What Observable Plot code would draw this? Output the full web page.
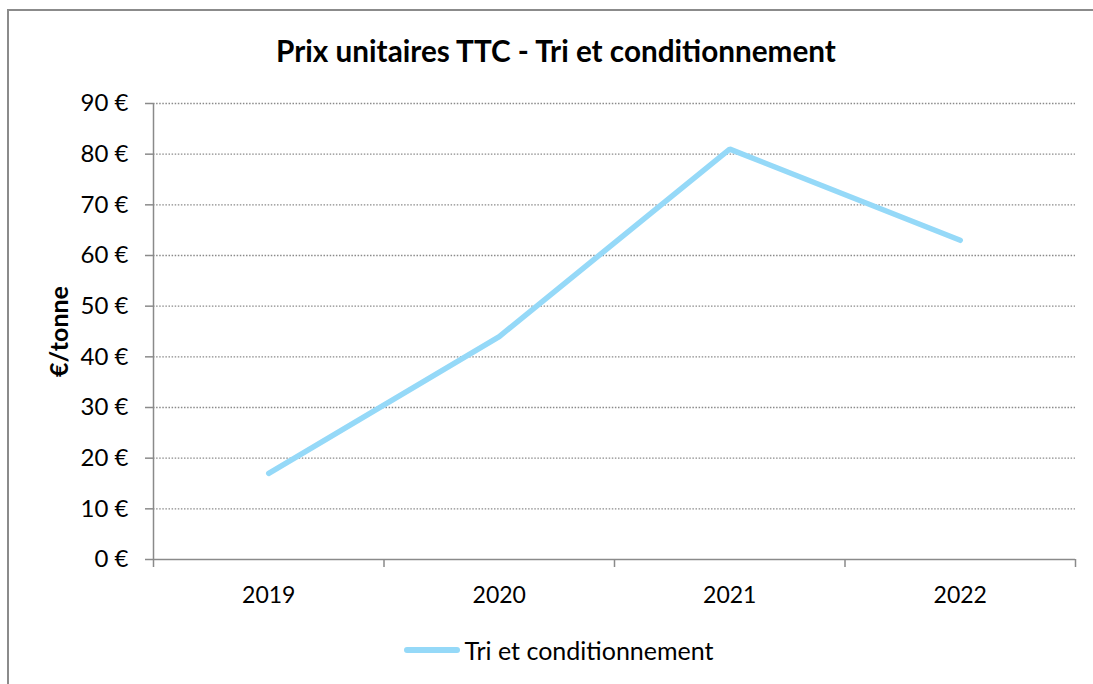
<!DOCTYPE html>
<html><head><meta charset="utf-8">
<script src="https://cdn.jsdelivr.net/npm/d3@7"></script>
<script src="https://cdn.jsdelivr.net/npm/@observablehq/plot@0.6"></script>
<style>
html,body{margin:0;padding:0;background:#fff;overflow:hidden;font-family:Lato,"Liberation Sans",sans-serif;}
#wrap{position:relative;width:1093px;height:684px;overflow:hidden;}
#bTop{position:absolute;left:7px;top:9px;width:1200px;height:2px;background:#8b8b8b;}
#bLeft{position:absolute;left:7px;top:9px;width:2px;height:700px;background:#8b8b8b;}
#title{position:absolute;left:0;top:31px;width:1112px;text-align:center;font-weight:bold;font-size:29.7px;line-height:40px;color:#000;}
#chart{position:absolute;left:0;top:80px;}
#legend{position:absolute;left:0;top:620px;width:1118px;height:60px;display:flex;align-items:center;justify-content:center;font-size:25px;color:#000;}
#legend .sw{display:inline-block;width:56px;height:6px;border-radius:3px;background:#95D9F8;margin-right:4px;}
</style></head>
<body>
<div id="wrap">
<div id="bTop"></div><div id="bLeft"></div>
<div id="title">Prix unitaires TTC - Tri et conditionnement</div>
<div id="chart"></div>
<div id="legend"><span class="sw"></span><span id="legtext"></span></div>
</div>
<script>
const years = [2019, 2020, 2021, 2022];
const values = [17, 44, 81, 63];
const yTicks = [0, 10, 20, 30, 40, 50, 60, 70, 80, 90];
const seriesName = "Tri et conditionnement";
const yLabel = "€/tonne";
const lineColor = "#95D9F8";

const data = years.map((y, i) => ({year: y, value: values[i]}));
const boundaries = years.map(y => y - 0.5).concat([years[years.length - 1] + 0.5]);

const chart = Plot.plot({
  width: 1093,
  height: 540,
  marginLeft: 153,
  marginRight: 18,
  marginTop: 23,
  marginBottom: 61,
  style: {fontFamily: "Lato, 'Liberation Sans', sans-serif", background: "transparent"},
  x: {type: "linear", domain: [boundaries[0], boundaries[boundaries.length - 1]], label: null},
  y: {domain: [0, 90], label: null},
  marks: [
    Plot.gridY(yTicks.filter(d => d > 0), {stroke: "#8a8a8a", strokeOpacity: 1, strokeWidth: 1.4, strokeDasharray: "1.5,1.6"}),
    Plot.axisY(yTicks, {tickSize: 8, tickPadding: 17, tickFormat: d => `${d} €`, fontSize: 24, stroke: "#8a8a8a", strokeWidth: 1.5, fill: "#000", label: null}),
    Plot.axisX(boundaries, {tickSize: 8, tickFormat: () => "", stroke: "#8a8a8a", strokeWidth: 1.5, label: null}),
    Plot.axisX(years, {tickSize: 0, tickPadding: 27, tickFormat: d => String(d), fontSize: 23, fill: "#000", label: null}),
    Plot.ruleX([boundaries[0]], {stroke: "#8a8a8a", strokeWidth: 1.5}),
    Plot.ruleY([0], {stroke: "#8a8a8a", strokeWidth: 1.5}),
    Plot.lineY(data, {x: "year", y: "value", stroke: lineColor, strokeWidth: 5.5, strokeLinecap: "round", strokeLinejoin: "miter"}),
    Plot.text([yLabel], {frameAnchor: "left", textAnchor: "middle", lineAnchor: "middle", rotate: -90, dx: -94, fontWeight: "bold", fontSize: 25, fill: "#000"})
  ]
});
document.getElementById("chart").appendChild(chart);
document.getElementById("legtext").textContent = seriesName;
</script>
</body></html>
